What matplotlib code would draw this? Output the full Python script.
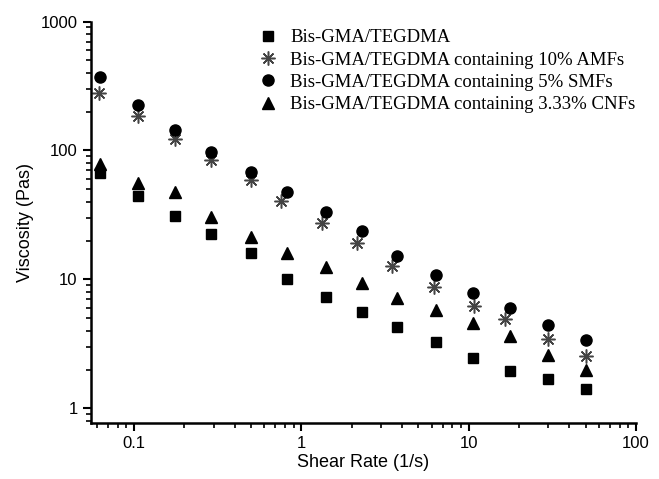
import matplotlib
matplotlib.use("Agg")
import matplotlib.pyplot as plt
from matplotlib.ticker import LogLocator, NullFormatter

# shear rates (1/s)
rate = [0.063, 0.106, 0.175, 0.29, 0.50, 0.82, 1.40, 2.30, 3.75, 6.4, 10.6, 17.7, 29.8, 50.0]
rate_amf = [0.062, 0.106, 0.175, 0.288, 0.50, 0.76, 1.33, 2.15, 3.5, 6.2, 10.8, 16.5, 29.8, 50.0]

# viscosity (Pa s)
visc_plain = [67, 44.4, 31, 22.5, 16.1, 10.0, 7.3, 5.6, 4.25, 3.27, 2.47, 1.96, 1.68, 1.40]
visc_amf = [279, 184, 122, 84, 59, 40.6, 27.3, 19.3, 12.6, 8.8, 6.2, 4.95, 3.45, 2.53]
visc_smf = [374, 225, 144, 97, 68, 47.4, 33.3, 23.7, 15.3, 10.8, 7.9, 6.0, 4.4, 3.4]
visc_cnf = [78, 56, 47.5, 30.5, 21.5, 16.0, 12.5, 9.4, 7.2, 5.8, 4.6, 3.65, 2.6, 1.98]

labels = ["Bis-GMA/TEGDMA",
          "Bis-GMA/TEGDMA containing 10% AMFs",
          "Bis-GMA/TEGDMA containing 5% SMFs",
          "Bis-GMA/TEGDMA containing 3.33% CNFs"]

fig = plt.figure(figsize=(6.59, 4.79), dpi=100)
ax = fig.add_axes([0.138, 0.117, 0.827, 0.838])

ax.plot(rate, visc_plain, ls="none", marker="s", ms=7, color="black", label=labels[0])
ax.plot(rate_amf, visc_amf, ls="none", marker=(8, 2, 0), ms=10, mew=1.1,
        color="#444444", label=labels[1])
ax.plot(rate, visc_smf, ls="none", marker="o", ms=8, color="black", label=labels[2])
ax.plot(rate, visc_cnf, ls="none", marker="^", ms=8.5, color="black", label=labels[3])

ax.set_xscale("log")
ax.set_yscale("log")
ax.set_xlim(0.0553, 100)
ax.set_ylim(0.77, 1000)

ax.set_xticks([0.1, 1, 10, 100])
ax.set_xticklabels(["0.1", "1", "10", "100"])
ax.set_yticks([1, 10, 100, 1000])
ax.set_yticklabels(["1", "10", "100", "1000"])
ax.xaxis.set_minor_locator(LogLocator(base=10, subs=range(2, 10)))
ax.yaxis.set_minor_locator(LogLocator(base=10, subs=range(2, 10)))
ax.xaxis.set_minor_formatter(NullFormatter())
ax.yaxis.set_minor_formatter(NullFormatter())

for s in ["top", "right"]:
    ax.spines[s].set_visible(False)
for s in ["left", "bottom"]:
    ax.spines[s].set_linewidth(1.8)

ax.tick_params(which="major", direction="out", length=6, width=1.5,
               labelsize=12, labelfontfamily="Liberation Sans")
ax.tick_params(which="minor", direction="out", length=3.5, width=1.2)

ax.set_xlabel("Shear Rate (1/s)", fontsize=13, family="Liberation Sans", labelpad=2)
ax.set_ylabel("Viscosity (Pas)", fontsize=13, family="Liberation Sans", labelpad=5)

ax.legend(loc="upper left", bbox_to_anchor=(0.29, 1.0), frameon=False,
          prop={"family": "Liberation Serif", "size": 13.5}, handletextpad=0.6,
          labelspacing=0.28, handlelength=1.2, borderaxespad=0)

fig.savefig("out.png", dpi=100)
